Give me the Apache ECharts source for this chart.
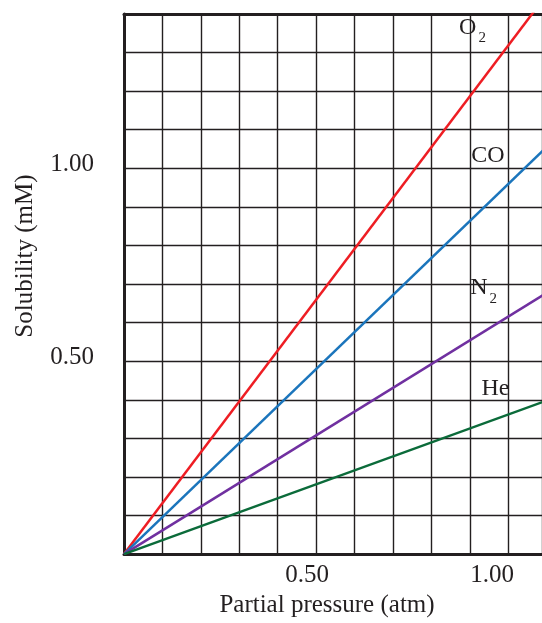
<!DOCTYPE html>
<html><head><meta charset="utf-8">
<script src="https://cdn.jsdelivr.net/npm/echarts@6/dist/echarts.min.js"></script>
<style>html,body{margin:0;padding:0;background:#fff}#c{width:542px;height:623px}</style>
</head><body><div id="c"></div>
<script>
// Partial pressure (atm) at which each line is sampled
const pressures = [0, 1.1];
// Solubility (mM) of each gas at those pressures
const o2 = [0, 1.45];
const co = [0, 1.055];
const n2 = [0, 0.677];
const he = [0, 0.398];
const gasNames = ['O2', 'CO', 'N2', 'He'];
const gasColors = ['#ee1d23', '#1b75bc', '#7030a0', '#0b6b3a'];
// label anchors [pressure, solubility]
const labelAnchors = [[0.907, 1.365], [0.947, 1.033], [0.936, 0.69], [0.967, 0.43]];
const labelTexts = ['{m|O}{s|2}', '{m|CO}', '{m|N}{s|2}', '{m|He}'];
const xTickLabels = {'0.5': '0.50', '1': '1.00'};
const yTickLabels = {'0.5': '0.50', '1': '1.00'};

const font = 'Liberation Serif';
const ink = '#231f20';
const fs = 25;
const chart = echarts.init(document.getElementById('c'), null, {renderer: 'canvas'});
const seriesData = [o2, co, n2, he];
const series = seriesData.map((vals, i) => ({
  type: 'line', name: gasNames[i], data: pressures.map((p, j) => [p, vals[j]]),
  symbol: 'none', clip: true, lineStyle: {color: gasColors[i], width: 2.5}, z: 5,
  markPoint: {
    symbol: 'circle', symbolSize: 2, silent: true, animation: false,
    itemStyle: {color: 'rgba(0,0,0,0)'},
    data: [{coord: labelAnchors[i], value: gasNames[i]}],
    label: {show: true, formatter: labelTexts[i], position: 'inside',
      rich: {m: {fontFamily: font, fontSize: 24, color: ink},
             s: {fontFamily: font, fontSize: 15, color: ink, padding: [22, 0, 0, 2]}}}
  }
}));
chart.setOption({
  animation: false,
  grid: {left: 124, right: 0, top: 14, bottom: 64, containLabel: false},
  xAxis: [{
    type: 'value', min: 0, max: 1.088, interval: 0.1,
    axisLine: {show: true, lineStyle: {color: ink, width: 3}},
    axisTick: {show: false},
    splitLine: {show: true, lineStyle: {color: ink, width: 1.4}},
    axisLabel: {show: true, margin: 9, showMaxLabel: false,
      formatter: v => { const k = String(Math.round(v * 10) / 10); return xTickLabels[k] ? '{' + (k === '1' ? 'b' : 'a') + '|' + xTickLabels[k] + '}' : ''; },
      rich: {a: {fontFamily: font, fontSize: fs, color: ink, padding: [0, 18, 0, 0]},
             b: {fontFamily: font, fontSize: fs, color: ink, padding: [0, 32, 0, 0]}}},
    name: 'Partial pressure (atm)', nameLocation: 'middle', nameGap: 38,
    nameTextStyle: {fontFamily: font, fontSize: fs, color: ink, padding: [0, 12, 0, 0]}
  }, {
    type: 'value', position: 'top', min: 0, max: 1.088,
    axisLine: {show: true, lineStyle: {color: ink, width: 3}},
    axisTick: {show: false}, axisLabel: {show: false}, splitLine: {show: false}
  }],
  yAxis: {
    type: 'value', min: 0, max: 1.4, interval: 0.1,
    axisLine: {show: true, lineStyle: {color: ink, width: 3}},
    axisTick: {show: false},
    splitLine: {show: true, lineStyle: {color: ink, width: 1.4}},
    axisLabel: {show: true, margin: 30,
      formatter: v => { const k = String(Math.round(v * 10) / 10); return yTickLabels[k] ? '{a|' + yTickLabels[k] + '}' : ''; },
      rich: {a: {fontFamily: font, fontSize: fs, color: ink, padding: [0, 0, 8, 0]}}},
    name: 'Solubility (mM)', nameLocation: 'middle', nameGap: 86,
    nameTextStyle: {fontFamily: font, fontSize: fs, color: ink, padding: [0, 0, 0, 56]}
  },
  series: series
});
</script></body></html>
